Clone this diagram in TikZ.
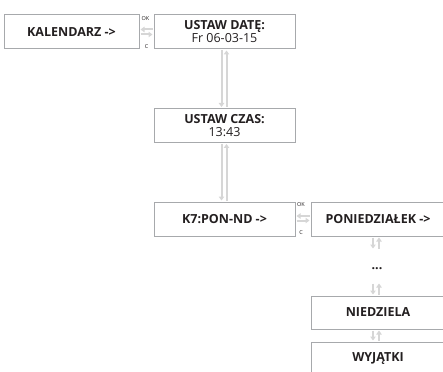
\documentclass[tikz,border=0pt]{standalone}
\usepackage{fontspec}
\setmainfont{Open Sans}
\usetikzlibrary{arrows.meta, positioning, calc}
\definecolor{ramka}{HTML}{A7A9AC}
\definecolor{strzalka}{HTML}{D6D6D6}
\definecolor{tekst}{HTML}{231F20}
\tikzset{
    ekran/.style={draw=ramka, line width=1pt, minimum width=141pt,
        minimum height=34pt, align=center, inner sep=0pt, text=tekst,
        font=\fontsize{12.5}{13}\selectfont\bfseries},
    przejscie/.style={draw=strzalka, line width=2pt,
        -{Triangle[length=4pt, width=5.5pt]}, shorten >=1pt, shorten <=1pt},
    etyk/.style={font=\fontsize{5.5}{6}\selectfont, text=tekst, inner sep=0pt},
}
\begin{document}
\begin{tikzpicture}[x=1pt, y=-1pt]
    \useasboundingbox (0,0) rectangle (443,371);

    % Ekrany
    \node[ekran, minimum width=135pt] (kal) at (71.5,32) {KALENDARZ ->};
    \node[ekran] (data) at (224.5,32) {USTAW DATĘ:\\{\mdseries Fr 06-03-15}};
    \node[ekran] (czas) at (224.5,125.5) {USTAW CZAS:\\{\mdseries 13:43}};
    \node[ekran] (k7) at (224.5,219) {K7:PON-ND ->};
    \node[ekran, minimum width=134pt] (pon) at (378,219) {PONIEDZIAŁEK ->};
    \node[ekran, draw=none, minimum width=20pt, minimum height=26pt] (kropki) at (377,269) {...};
    \node[ekran, minimum width=134pt, minimum height=33pt] (nie) at (378,312.5) {NIEDZIELA};
    \node[ekran, minimum width=134pt] (wyj) at (378,359) {WYJĄTKI};

    % OK / C
    \node[etyk, anchor=north west] (ok1) at ([xshift=2pt, yshift=-1.5pt]kal.north east) {OK};
    \node[etyk, anchor=south] (c1) at ([xshift=7pt, yshift=1pt]kal.south east) {C};
    \node[etyk, anchor=north west] (ok2) at ([xshift=1.5pt, yshift=-1pt]k7.north east) {OK};
    \node[etyk, anchor=south] (c2) at ([xshift=5.5pt, yshift=2pt]k7.south east) {C};

    % Przejscia poziome
    \draw[przejscie] ([yshift=2.5pt]data.west) -- ([yshift=2.5pt]kal.east);
    \draw[przejscie] ([yshift=-2.5pt]kal.east) -- ([yshift=-2.5pt]data.west);
    \draw[przejscie] ([yshift=3pt]pon.west) -- ([yshift=3pt]k7.east);
    \draw[przejscie] ([yshift=-1.5pt]k7.east) -- ([yshift=-1.5pt]pon.west);

    % Przejscia pionowe
    \draw[przejscie] ([xshift=-3pt]data.south) -- ([xshift=-3pt]czas.north);
    \draw[przejscie] ([xshift=2pt]czas.north) -- ([xshift=2pt]data.south);
    \draw[przejscie] ([xshift=-3pt]czas.south) -- ([xshift=-3pt]k7.north);
    \draw[przejscie] ([xshift=2pt]k7.north) -- ([xshift=2pt]czas.south);

    \draw[przejscie, shorten >=7pt] ([xshift=-5pt]pon.south) -- ([xshift=-4pt]kropki.north);
    \draw[przejscie, shorten <=7pt] ([xshift=2pt]kropki.north) -- ([xshift=1pt]pon.south);
    \draw[przejscie] ([xshift=-4pt]kropki.south) -- ([xshift=-5pt]nie.north);
    \draw[przejscie] ([xshift=1pt]nie.north) -- ([xshift=2pt]kropki.south);
    \draw[przejscie] ([xshift=-5pt]nie.south) -- ([xshift=-5pt]wyj.north);
    \draw[przejscie] ([xshift=1pt]wyj.north) -- ([xshift=1pt]nie.south);
\end{tikzpicture}
\end{document}
